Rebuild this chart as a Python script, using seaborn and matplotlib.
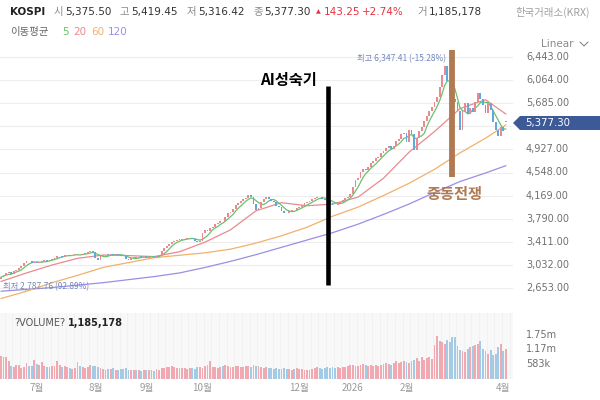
import numpy as np
import pandas as pd
import matplotlib
matplotlib.use("Agg")
import matplotlib.pyplot as plt
import seaborn as sns
from matplotlib.patches import Polygon
from matplotlib.lines import Line2D
import matplotlib.transforms as mtrans

# ---------------- data ----------------
closes = [
    # Jun
    2830, 2870, 2895, 2910, 2890, 2930, 2950, 2975, 3010, 3060, 3100, 3090, 3070, 3085,
    # Jul
    3060, 3075, 3090, 3110, 3095, 3115, 3130, 3150, 3175, 3180, 3165, 3190, 3200, 3185,
    3195, 3210, 3200, 3190, 3215, 3230, 3245, 3255, 3240,
    # Aug
    3145, 3120, 3170, 3190, 3200, 3195, 3210, 3190, 3205, 3200, 3185, 3170, 3130, 3110,
    3140, 3155, 3150, 3165, 3160, 3170,
    # Sep
    3150, 3165, 3175, 3160, 3170, 3185, 3260, 3310, 3340, 3380, 3410, 3430, 3445, 3440,
    3455, 3465, 3470, 3480, 3460, 3430, 3400, 3420,
    # Oct
    3550, 3600, 3590, 3640, 3660, 3700, 3720, 3760, 3750, 3820, 3880, 3900, 3950, 4020,
    4040, 4080, 4110, 4130,
    # Nov
    4180, 4150, 4030, 3940, 3960, 4060, 4120, 4150, 4110, 4080, 4060, 4000, 3980, 3920,
    3890, 3880, 3910, 3940, 3930, 3970,
    # Dec
    3990, 4010, 4040, 4060, 4080, 4110, 4130, 4150, 4140, 4120, 4100, 4080, 4050, 4020,
    4010, 4040, 4070, 4100, 4130, 4150, 4200,
    # Jan
    4310, 4420, 4460, 4560, 4600, 4590, 4640, 4700, 4730, 4790, 4810, 4870, 4900, 4950,
    4980, 4940, 4990, 5070, 5100, 5180, 5200,
    # Feb
    5050, 5250, 5180, 4920, 5110, 5230, 5300, 5400, 5480, 5560, 5620, 5700, 5790, 5950,
    6150, 6300, 6050,
    # Mar
    5800, 5750, 5700, 5550, 5250, 5560, 5690, 5500, 5610, 5540, 5700, 5860, 5760, 5650,
    5520, 5690, 5570, 5370, 5250, 5150, 5300,
    # Apr
    5234.05, 5377.30,
]
first_open = 2800
last_open = 5375.50

volumes_k = [
    900, 850, 880, 700, 520, 480, 560, 550, 420, 480, 620, 500, 520, 740,
    600, 560, 650, 520, 480, 460, 500, 520, 700, 560, 480, 520, 460, 440, 400, 420, 650,
    500, 480, 430, 460, 560, 520,
    500, 480, 440, 380, 360, 400, 380, 420, 360, 340, 400, 380, 430, 360, 340, 330, 360,
    340, 320, 350,
    330, 360, 340, 320, 380, 360, 420, 440, 460, 480, 520, 460, 440, 420, 440, 420, 400,
    430, 410, 400, 450, 480,
    430, 500, 560, 720, 460, 480, 440, 460, 520, 560, 500, 460, 480, 520, 500, 480, 460, 500,
    520, 480, 560, 520, 500, 460, 440, 480, 440, 420, 400, 420, 400, 380, 420, 400, 380,
    360, 390, 420,
    400, 380, 360, 340, 360, 380, 420, 460, 440, 400, 420, 460, 440, 480, 420, 460, 440,
    480, 460, 500, 540,
    560, 520, 500, 540, 580, 540, 520, 560, 500, 540, 520, 560, 580, 620, 600, 560, 640,
    700, 620, 680, 720,
    660, 640, 700, 760, 820, 720, 880, 760, 820, 860, 800, 1350, 1720, 1500, 1450, 1400, 1550,
    1450, 1650, 1680, 1300, 1150, 1100, 1050, 1200, 1250, 1300, 1350, 1400, 1500, 1200,
    1100, 1000, 1150, 950, 1000, 1250, 1400,
    1100, 1185.178,
]

ma_idx = [0, 10, 20, 30, 40, 50, 60, 70, 80, 90, 100, 110, 120, 130, 140, 150, 160, 170, 180, 190, 198]
ma20 = [2760, 2900, 3030, 3140, 3193, 3185, 3168, 3248, 3405, 3607, 3920, 4053, 4003, 4030,
        4143, 4454, 4880, 5220, 5597, 5742, 5507]
ma60 = [2480, 2600, 2740, 2860, 2990, 3070, 3150, 3190, 3230, 3290, 3390, 3510, 3650, 3830,
        3980, 4170, 4370, 4600, 4870, 5110, 5330]
ma120 = [2600, 2630, 2660, 2700, 2740, 2790, 2840, 2900, 2990, 3090, 3200, 3320, 3440, 3560,
         3700, 3860, 4030, 4220, 4400, 4540, 4660]

month_idx = [14, 37, 57, 79, 117, 138, 159, 197]
month_labels = ["7월", "8월", "9월", "10월", "12월", "2026", "2월", "4월"]
price_ticks = [2653, 3032, 3411, 3790, 4169, 4548, 4927, 5306, 5685, 6064, 6443]
vol_ticks_k = [583.33, 1166.67, 1750]
vol_tick_labels = ["583k", "1.17m", "1.75m"]

# ---------------- style ----------------
sns.set_theme(style="white")
plt.rcParams["font.family"] = ["DejaVu Sans", "Noto Sans CJK KR"]
KR = ["Noto Sans CJK KR", "DejaVu Sans"]

UP, DOWN = "#ec8890", "#5cabdc"
VUP, VDOWN = "#f0a9b0", "#a3cbe6"
C5, C20, C60, C120 = "#6cc06c", "#ea8a8e", "#f2b06a", "#9b8ee4"

W, H = 600, 400
fig = plt.figure(figsize=(6, 4), dpi=100)
fig.patch.set_facecolor("white")


def fx(px):
    return px / W


def fy(py):
    return 1 - py / H


n = len(closes)
idx = np.arange(n)
opens = [first_open] + closes[:-1]
opens[-1] = last_open
df = pd.DataFrame({"i": idx, "open": opens, "close": closes, "vol": volumes_k})
df["up"] = df["close"] >= df["open"]
df["ma5"] = df["close"].rolling(5, min_periods=1).mean()

# pixel mapping: x_px = 1 + 2.55*i  over a 513 px wide plot
x_left = -1 / 2.55
x_right = (513 - 1) / 2.55

# price panel  (y 48..300 px), 6443 at y57, 2653 at y288
ppx = (6443 - 2653) / (288 - 57)
ytop = 6443 + (57 - 48) * ppx
ybot = 6443 - (300 - 57) * ppx
ax = fig.add_axes([0, fy(300), fx(513), (300 - 48) / H])
ax.set_xlim(x_left, x_right)
ax.set_ylim(ybot, ytop)
ax.set_yticks(price_ticks)
ax.set_xticks([])
ax.yaxis.grid(True, color="#ededed", lw=0.8)
ax.tick_params(left=False, right=False, labelleft=False)
for s in ax.spines.values():
    s.set_visible(False)

sns.lineplot(x=ma_idx, y=ma120, ax=ax, color=C120, lw=0.9, zorder=2)
sns.lineplot(x=ma_idx, y=ma60, ax=ax, color=C60, lw=0.9, zorder=2)
sns.lineplot(x=ma_idx, y=ma20, ax=ax, color=C20, lw=0.9, zorder=2)
sns.lineplot(data=df, x="i", y="ma5", ax=ax, color=C5, lw=0.9, zorder=2)

body_bottom = np.minimum(df["open"], df["close"])
body_h = np.maximum(np.abs(df["close"] - df["open"]), 10)
ax.bar(df["i"], body_h, bottom=body_bottom, width=0.72,
       color=np.where(df["up"], UP, DOWN), zorder=3, linewidth=0)
ax.set_xlabel("")
ax.set_ylabel("")

# annotations in price panel
ai_idx, ai_top, ai_bot = 128.2, 5967, 2702
ax.plot([ai_idx, ai_idx], [ai_bot, ai_top], color="black", lw=3.3,
        solid_capstyle="butt", zorder=5)
war_idx, war_top, war_bot = 176.9, 6558, 4474
ax.plot([war_idx, war_idx], [war_bot, war_top], color="#b07a52", lw=4.2,
        solid_capstyle="butt", zorder=5)

# volume panel (y 313..378.5 px)
vpx = 583.33 / 14.5
axv = fig.add_axes([0, fy(378.5), fx(513), (378.5 - 313) / H])
axv.set_facecolor("#f8f8f8")
axv.set_xlim(x_left, x_right)
axv.set_ylim(0, (378.5 - 313) * vpx)
axv.bar(df["i"], df["vol"], width=0.72,
        color=np.where(df["up"], VUP, VDOWN), linewidth=0, zorder=3)
for xx in range(0, n, 3):
    axv.axvline(xx + 1.5, color="#efefef", lw=0.5, zorder=1)
axv.set_xticks([])
axv.set_yticks([])
for s in axv.spines.values():
    s.set_visible(False)

# ---------------- texts ----------------
tp = mtrans.blended_transform_factory(fig.transFigure, ax.transData)
for t in price_ticks:
    fig.text(fx(526), t, f"{t:,.2f}", transform=tp, ha="left", va="center",
             fontsize=7, color="#707070", zorder=3)
tv = mtrans.blended_transform_factory(fig.transFigure, axv.transData)
for t, lab in zip(vol_ticks_k, vol_tick_labels):
    fig.text(fx(526), t, lab, transform=tv, ha="left", va="center",
             fontsize=7, color="#707070")
tx = mtrans.blended_transform_factory(axv.transData, fig.transFigure)
for i, lab in zip(month_idx, month_labels):
    fig.text(i, fy(388), lab, transform=tx, ha="center", va="center",
             fontsize=7, color="#9a9a9a", family=KR)

# current price marker
py = fy(123)
mk = Polygon([[fx(513), py], [fx(520), fy(116)], [fx(600), fy(116)],
              [fx(600), fy(130)], [fx(520), fy(130)]], closed=True,
             transform=fig.transFigure, facecolor="#3d5a98", edgecolor="none", zorder=5)
fig.patches.append(mk)
fig.text(fx(525), py, "5,377.30", ha="left", va="center", fontsize=7.3,
         color="white", zorder=6)

# header line 1
hy = fy(12)
fig.text(fx(10), hy, "KOSPI", fontsize=7.5, weight="bold", color="#222222", va="center")
GR, DK, RD = "#8a8a8a", "#333333", "#e5343f"
tokens = [(54, "시", GR, KR), (65, "5,375.50", DK, None),
          (120, "고", GR, KR), (131, "5,419.45", DK, None),
          (187, "저", GR, KR), (198, "5,316.42", DK, None),
          (253, "종", GR, KR), (264, "5,377.30", DK, None),
          (324, "143.25", RD, None), (362, "+2.74%", RD, None),
          (417, "거", GR, KR), (429, "1,185,178", DK, None)]
for x, s, c, fam in tokens:
    fig.text(fx(x), hy, s, fontsize=7.5, color=c, va="center", family=fam)
fig.text(fx(316), hy, "▲", fontsize=4.5, color=RD, va="center")
fig.text(fx(590), hy, "한국거래소(KRX)", fontsize=7.5, color="#a0a0a0", va="center",
         ha="right", family=KR)

# header line 2
ly = fy(32)
fig.text(fx(10), ly, "이동평균", fontsize=7.5, color="#666666", va="center", family=KR)
for x, s, c in [(62, "5", C5), (73, "20", C20), (91, "60", C60), (108, "120", C120)]:
    fig.text(fx(x), ly, s, fontsize=7.5, color=c, va="center")

# Linear selector
fig.text(fx(573), fy(44), "Linear", fontsize=7.5, color="#8a8a8a", va="center", ha="right")
fig.lines.append(Line2D([fx(580), fx(584), fx(588)], [fy(42), fy(46), fy(42)],
                        transform=fig.transFigure, color="#8a8a8a", lw=0.8))

# hi / lo labels
fig.text(fx(446), fy(59), "최고 6,347.41 (-15.28%)", fontsize=6, color="#7388bb",
         ha="right", va="center", family=KR)
fig.text(fx(3), fy(287), "최저 2,787.76 (92.89%)", fontsize=6, color="#7388bb",
         ha="left", va="center", family=KR)

# event labels
fig.text(fx(288.5), fy(80), "AI성숙기", fontsize=11, weight="bold", color="black",
         ha="center", va="center", family=KR)
fig.text(fx(454), fy(194), "중동전쟁", fontsize=11, weight="bold", color="#b07a52",
         ha="center", va="center", family=KR)

# volume label
fig.text(fx(14), fy(323), "?VOLUME?", fontsize=7, color="#555555", va="center")
fig.text(fx(68), fy(323), "1,185,178", fontsize=7, weight="bold", color="#222222", va="center")

fig.savefig("out.png", dpi=100, facecolor="white")
